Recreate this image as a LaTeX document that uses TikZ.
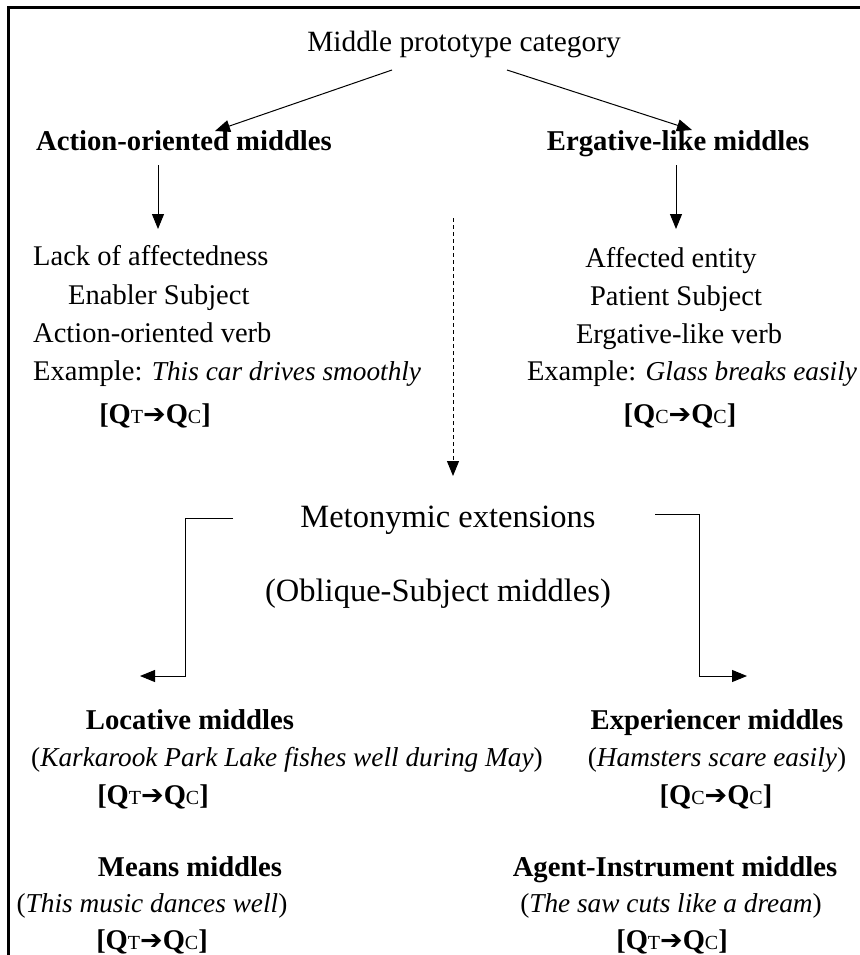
\documentclass[tikz,border=0pt]{standalone}
\usepackage{fontspec}
\setmainfont{Liberation Serif}
\newfontfamily\arrowfont{DejaVu Sans}
\usetikzlibrary{arrows.meta}
\newcommand{\QQ}[2]{\textbf{[Q}{\fontsize{20}{20}\selectfont #1}{\arrowfont\bfseries\fontsize{27}{27}\selectfont ➔}\textbf{Q}{\fontsize{20}{20}\selectfont #2}\textbf{]}}
\newcommand{\exi}[1]{{\fontsize{27.3}{34}\selectfont\itshape #1}}
\tikzset{
  txt/.style={inner sep=0pt, anchor=base, font={\fontsize{28.5}{34}\selectfont}},
  txtw/.style={txt, anchor=base west},
  exl/.style={inner sep=0pt, anchor=base, font={\fontsize{27.3}{34}\selectfont}},
  head/.style={inner sep=0pt, anchor=base, font={\fontsize{28.7}{34}\selectfont\bfseries}},
  big/.style={inner sep=0pt, anchor=base, font={\fontsize{32.5}{38}\selectfont}},
  arr/.style={-{Triangle[length=15pt,width=12pt]}, line width=1pt},
  frame/.style={line width=3pt, line cap=rect},
}
\begin{document}
\begin{tikzpicture}[x=1pt,y=-1pt]
\useasboundingbox (0,0) rectangle (859,955);
\fill[white] (0,0) rectangle (859,955);
\draw[frame] (8,960) -- (8,8) -- (865,8);

% top
\node[txt, font={\fontsize{29.4}{34}\selectfont}] (mp) at (464,52) {Middle prototype category};
\node[head] (ao) at (184,150) {Action-oriented middles};
\node[head] (el) at (678,150) {Ergative-like middles};
\coordinate (mpL) at (392,70);
\coordinate (mpR) at (507,70);
\coordinate (aoT) at (215,131);
\coordinate (elT) at (692,130);
\draw[arr] (mpL) -- (aoT);
\draw[arr] (mpR) -- (elT);

% left list
\node[txtw] (l1) at (33,265) {Lack of affectedness};
\node[txtw] (l2) at (68,304) {Enabler Subject};
\node[txtw] (l3) at (33,342) {Action-oriented verb};
\node[txtw] (l4) at (33,380) {Example: \exi{This car drives smoothly}};
\node[txt] (lq) at (155,423) {\QQ{T}{C}};
\coordinate (aoB) at (158,165);
\coordinate (l1T) at (158,229);
\draw[arr] (aoB) -- (l1T);

% right list
\node[txt] (r1) at (671,267) {Affected entity};
\node[txt] (r2) at (676,305) {Patient Subject};
\node[txt] (r3) at (679,343) {Ergative-like verb};
\node[txt] (r4) at (692,380) {Example: \exi{Glass breaks easily}};
\node[txt] (rq) at (680,423) {\QQ{C}{C}};
\coordinate (elB) at (676,165);
\coordinate (r1T) at (676,229);
\draw[arr] (elB) -- (r1T);

% dashed
\coordinate (dT) at (453,218);
\coordinate (dB) at (453,476);
\draw[arr, dash pattern=on 4pt off 3pt] (dT) -- (dB);

% metonymic
\node[big] (me) at (448,527) {Metonymic extensions};
\node[big] (ob) at (438,601) {(Oblique-Subject middles)};
\coordinate (bL0) at (233,518);
\coordinate (bL1) at (185,518);
\coordinate (bL2) at (185,676);
\coordinate (bL3) at (140,676);
\draw[arr] (bL0) -- (bL1) -- (bL2) -- (bL3);
\coordinate (bR0) at (655,514);
\coordinate (bR1) at (699,514);
\coordinate (bR2) at (699,676);
\coordinate (bR3) at (747,676);
\draw[arr] (bR0) -- (bR1) -- (bR2) -- (bR3);

% locative
\node[head] (lo) at (190,729) {Locative middles};
\node[exl] (loe) at (287,766) {(\textit{Karkarook Park Lake fishes well during May})};
\node[txt] (loq) at (153,804) {\QQ{T}{C}};

% experiencer
\node[head] (ex) at (717,729) {Experiencer middles};
\node[exl] (exe) at (717,766) {(\textit{Hamsters scare easily})};
\node[txt] (exq) at (716,804) {\QQ{C}{C}};

% means
\node[head] (mn) at (190,876) {Means middles};
\node[exl] (mne) at (152,912) {(\textit{This music dances well})};
\node[txt] (mnq) at (152,949) {\QQ{T}{C}};

% agent-instrument
\node[head] (ag) at (675,876) {Agent-Instrument middles};
\node[exl] (age) at (671,912) {(\textit{The saw cuts like a dream})};
\node[txt] (agq) at (672,949) {\QQ{T}{C}};
\end{tikzpicture}
\end{document}
